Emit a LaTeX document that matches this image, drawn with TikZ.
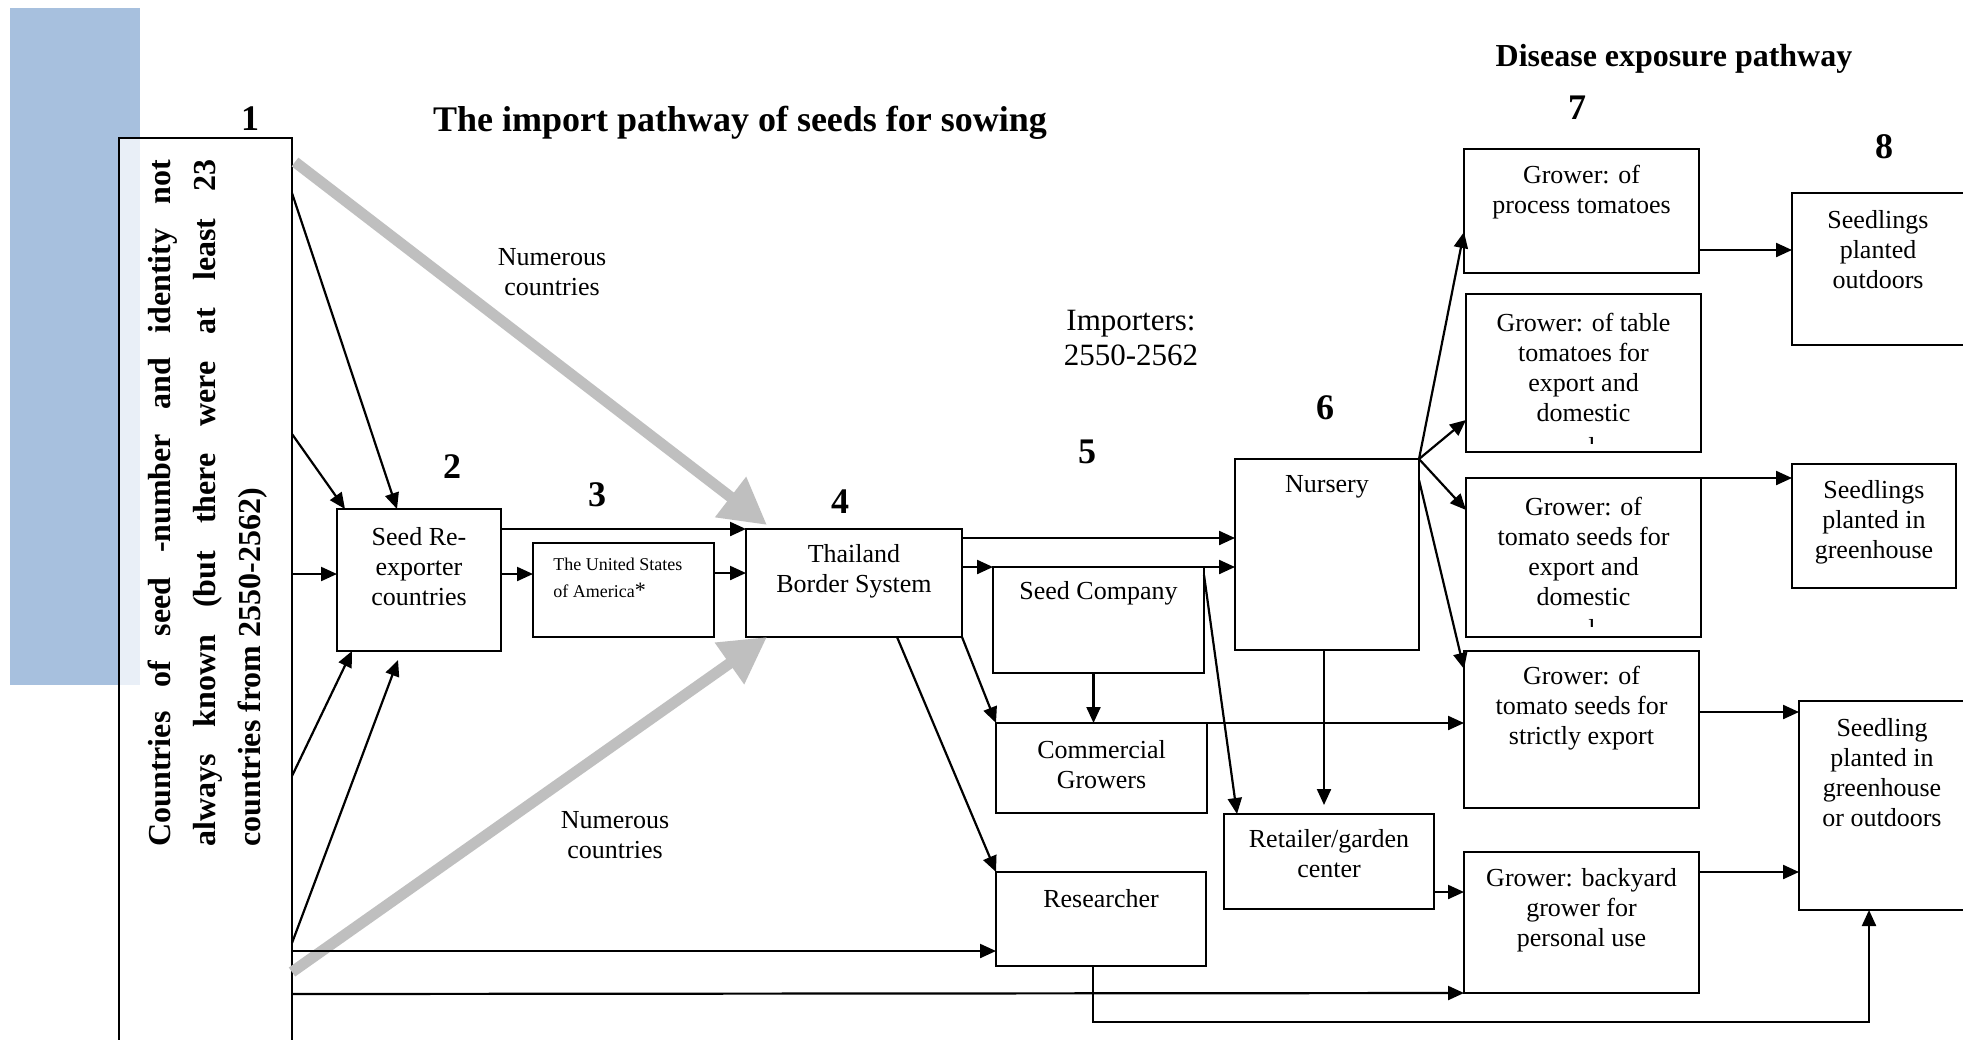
\documentclass[tikz,border=0pt]{standalone}
\usepackage{fontspec}
\setmainfont{Liberation Serif}
\usetikzlibrary{arrows.meta,fit}
\definecolor{bluebar}{RGB}{167,192,222}
\definecolor{grayarrow}{RGB}{191,191,191}
\begin{document}
\begin{tikzpicture}[x=0.5pt,y=-0.5pt,
  box/.style={draw=black,line width=1.25pt,inner sep=0pt,outer sep=0pt,fill=white},
  arr/.style={draw=black,line width=1.1pt,-{Triangle[length=8pt,width=7pt]}},
  garr/.style={draw=grayarrow,line width=5.5pt,-{Triangle[length=23pt,width=24pt]}},
  txt/.style={align=center,inner sep=0pt,font=\fontsize{13}{15}\selectfont},
  small/.style={align=left,inner sep=0pt,font=\fontsize{9}{13.5}\selectfont},
  num/.style={inner sep=0pt,font=\fontsize{18}{20}\selectfont\bfseries},
]
\clip (0,0) rectangle (1963,1039);
\fill[white] (0,0) rectangle (1963,1039);
\fill[bluebar] (10,8) rectangle (140,685);

% boxes
\node[box, fill opacity=0.76, fit={(119,138)(292,1070)}] (n1) {};
\node[box, fit={(337,509)(501,651)}] (n2) {};
\node[box, fit={(533,543)(714,637)}] (n3) {};
\node[box, fit={(746,529)(962,637)}] (n4) {};
\node[box, fit={(993,567)(1204,673)}] (n5a) {};
\node[box, fit={(996,723)(1207,813)}] (n5b) {};
\node[box, fit={(996,872)(1206,966)}] (n5c) {};
\node[box, fit={(1235,459)(1419,650)}] (n6) {};
\node[box, fit={(1224,814)(1434,909)}] (n6b) {};
\node[box, fit={(1464,149)(1699,273)}] (g1) {};
\node[box, fit={(1466,294)(1701,452)}] (g2) {};
\node[box, fit={(1466,478)(1701,637)}] (g3) {};
\node[box, fit={(1464,651)(1699,808)}] (g4) {};
\node[box, fit={(1464,852)(1699,993)}] (g5) {};
\node[box, fit={(1792,193)(1985,345)}] (s1) {};
\node[box, fit={(1792,464)(1956,588)}] (s2) {};
\node[box, fit={(1799,701)(1985,910)}] (s3) {};

% texts
\node[rotate=90,anchor=base west,inner sep=0pt,font=\fontsize{16}{22.5}\selectfont\bfseries] (t1) at (170,847)
 {\parbox[t]{343.5pt}{\makebox[\linewidth][s]{Countries of seed -number and identity not}\\\makebox[\linewidth][s]{always known (but there were at least 23}\\countries from 2550-2562)}};
\node[txt] (t2) at (n2.center |- 0,567) {Seed Re-\\exporter\\countries};
\node[small, anchor=west] (t3) at (553,578) {The United States\\of America{\fontsize{11}{11}\selectfont*}};
\node[txt] (t4) at (n4.center |- 0,571) {Thailand\\Border System};
\node[txt] (t5a) at (n5a.center |- 0,593) {Seed Company};
\node[txt] (t5b) at (n5b.center |- 0,765) {Commercial\\Growers};
\node[txt] (t5c) at (n5c.center |- 0,899) {Researcher};
\node[txt] (t6) at (n6.center |- 0,487) {Nursery};
\node[txt] (t6b) at (n6b.center |- 0,854) {Retailer/garden\\center};
\node[txt] (tg1) at (g1.center |- 0,192) {Grower: of\\process tomatoes};
\node[txt] (tg2) at (g2.center |- 0,367) {Grower: of table\\tomatoes for\\export and\\domestic};
\node[txt] (tg3) at (g3.center |- 0,551) {Grower: of\\tomato seeds for\\export and\\domestic};
\node[txt] (tg4) at (g4.center |- 0,708) {Grower: of\\tomato seeds for\\strictly export};
\node[txt] (tg5) at (g5.center |- 0,910) {Grower: backyard\\grower for\\personal use};
\node[txt] (ts1) at (1878,250) {Seedlings\\planted\\outdoors};
\node[txt] (ts2) at (s2.center |- 0,522) {Seedlings\\planted in\\greenhouse};
\node[txt] (ts3) at (1882,773) {Seedling\\planted in\\greenhouse\\or outdoors};
\begin{scope}
\clip (1466,294) rectangle (1701,443);
\node[txt, anchor=north] (tg2x) at (1592,437) {l};
\end{scope}
\begin{scope}
\clip (1466,478) rectangle (1701,626);
\node[txt, anchor=north] (tg3x) at (1592,619) {l};
\end{scope}

\node[txt] (nc1) at (552,272) {Numerous\\countries};
\node[txt] (nc2) at (615,835) {Numerous\\countries};
\node[txt, font=\fontsize{15.5}{17.5}\selectfont] (imp) at (1131,338) {Importers:\\2550-2562};
\node[num, anchor=base] (title) at (740,131) {The import pathway of seeds for sowing};
\node[inner sep=0pt, anchor=base, font=\fontsize{16}{18}\selectfont\bfseries] (dis) at (1674,66) {Disease exposure pathway};
\node[num] (l1) at (250,119) {1};
\node[num] (l2) at (452,467) {2};
\node[num] (l3) at (597,495) {3};
\node[num] (l4) at (840,502) {4};
\node[num] (l5) at (1087,452) {5};
\node[num] (l6) at (1325,408) {6};
\node[num] (l7) at (1577,108) {7};
\node[num] (l8) at (1884,147) {8};

% gray arrows
\draw[garr] ([xshift=1.5pt,yshift=-12pt]n1.north east) -- ([xshift=10.5pt,yshift=2pt]n4.north west);
\draw[garr] (n1.east |- 0,972) -- ([xshift=10.5pt]n4.south west);

% from box 1
\draw[arr] (n1.east |- 0,193) -- ([xshift=30pt]n2.north west);
\draw[arr] (n1.east |- 0,434) -- ([xshift=4pt]n2.north west);
\draw[arr] (n1.east |- 0,574) -- (n2.west |- 0,574);
\draw[arr] (n1.east |- 0,776) -- ([xshift=7.5pt]n2.south west);
\draw[arr] (n1.east |- 0,943) -- ([xshift=30.5pt,yshift=-4.5pt]n2.south west);
\draw[arr] (n1.east |- 0,951) -- (n5c.west |- 0,951);
\draw[arr] (n1.east |- 0,994) -- (g5.south west);

% boxes 2, 3 to 4
\draw[arr] (n2.east |- n4.north) -- (n4.north west);
\draw[arr] (n2.east |- 0,574) -- (n3.west |- 0,574);
\draw[arr] (n3.east |- 0,573) -- (n4.west |- 0,573);

% from box 4
\draw[arr] (n4.east |- 0,538) -- (n6.west |- 0,538);
\draw[arr] (n4.east |- n5a.north) -- (n5a.north west);
\draw[arr] (n5a.north east) -- (n6.west |- n5a.north);
\draw[arr] (n4.south east) -- (n5b.north west);
\draw[arr] ([xshift=-32.5pt]n4.south east) -- (n5c.north west);
\path ([xshift=-2.5pt]n5a.south) coordinate (c5a);
\draw[arr] (c5a) -- (c5a |- n5b.north);
\draw[arr] (n5b.north east) -- (g4.west |- n5b.north);
\draw[arr] (n5a.east |- 0,575) -- ([xshift=6.5pt]n6b.north west);
\path ([xshift=-1.5pt]n6.south) coordinate (c6);
\draw[arr] (c6) -- (c6 |- 0,805);
\draw[arr] (n6b.east |- 0,892) -- (g5.west |- 0,892);

% nursery
\draw[arr] (n6.north east) -- (g1.west |- 0,232);
\draw[arr] (n6.north east) -- (g2.west |- 0,420);
\draw[arr] (n6.north east) -- (g3.west |- 0,510);
\draw[arr] (n6.east |- 0,480) -- ([yshift=-9pt]g4.north west);

% to column 8
\draw[arr] (g1.east |- 0,250) -- (s1.west |- 0,250);
\draw[arr] (g3.north east) -- (s2.west |- g3.north);
\draw[arr] (g4.east |- 0,712) -- (s3.west |- 0,712);
\draw[arr] (g5.east |- 0,872) -- (s3.west |- 0,872);
\path ([xshift=-4pt]n5c.south) coordinate (c5c);
\draw[arr] (c5c) -- ++(0,56) -| ([xshift=35pt]s3.south west);
\end{tikzpicture}
\end{document}
